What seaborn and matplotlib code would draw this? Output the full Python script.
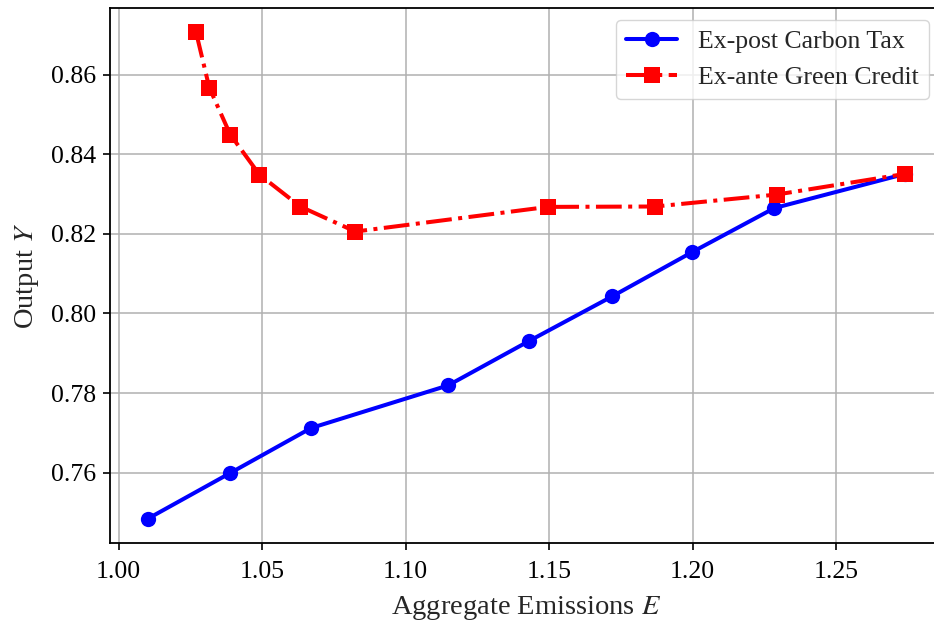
#!/usr/bin/env python3
"""
Output vs aggregate emissions: ex-post carbon tax vs ex-ante green credit
"""

import pandas as pd
import matplotlib
matplotlib.use('Agg')  # Non-interactive backend
import matplotlib.pyplot as plt
import seaborn as sns

# Ex-post carbon tax (emissions E, output Y)
tax_E = [1.0102, 1.0387, 1.0671, 1.1148, 1.1431, 1.1720, 1.1998, 1.2285, 1.2741]
tax_Y = [0.7484, 0.7598, 0.7712, 0.7819, 0.7931, 0.8043, 0.8154, 0.8265, 0.8351]

# Ex-ante green credit
credit_E = [1.0270, 1.0316, 1.0389, 1.0491, 1.0633, 1.0825, 1.1496, 1.1870, 1.2293, 1.2741]
credit_Y = [0.8707, 0.8568, 0.8450, 0.8349, 0.8269, 0.8206, 0.8268, 0.8269, 0.8299, 0.8351]

labels = ['Ex-post Carbon Tax', 'Ex-ante Green Credit']

sns.set_style("whitegrid", {
    'axes.edgecolor': 'black',
    'grid.color': '#b0b0b0',
    'xtick.bottom': True,
    'ytick.left': True,
})
plt.rcParams['font.family'] = ['Liberation Serif', 'DejaVu Serif']
plt.rcParams['mathtext.fontset'] = 'stix'
plt.rcParams['axes.linewidth'] = 1.3
plt.rcParams['grid.linewidth'] = 1.1
plt.rcParams['xtick.major.size'] = 5
plt.rcParams['ytick.major.size'] = 5
plt.rcParams['xtick.major.width'] = 1.2
plt.rcParams['ytick.major.width'] = 1.2
plt.rcParams['xtick.color'] = 'black'
plt.rcParams['ytick.color'] = 'black'

df_tax = pd.DataFrame({'E': tax_E, 'Y': tax_Y})
df_credit = pd.DataFrame({'E': credit_E, 'Y': credit_Y})

fig = plt.figure(figsize=(9.34, 6.25), dpi=100)
ax = fig.add_axes([110 / 934, 82 / 625, 833 / 934, 535 / 625])

sns.lineplot(data=df_tax, x='E', y='Y', ax=ax, color='blue', marker='o',
             markersize=11, linewidth=2.9, markeredgewidth=0,
             errorbar=None, label=labels[0])
sns.lineplot(data=df_credit, x='E', y='Y', ax=ax, color='red', marker='s',
             markersize=11, linewidth=2.9, markeredgewidth=0, linestyle='-.',
             errorbar=None, label=labels[1])

ax.set_xlabel('Aggregate Emissions $E$', fontsize=20.5, labelpad=8)
ax.set_ylabel('Output $Y$', fontsize=20.5, labelpad=7)
ax.tick_params(axis='both', labelsize=18.5)
ax.tick_params(axis='x', pad=8)
ax.tick_params(axis='y', pad=5)
ax.set_xticks([1.00, 1.05, 1.10, 1.15, 1.20, 1.25])
ax.set_xticklabels(['1.00', '1.05', '1.10', '1.15', '1.20', '1.25'])
ax.set_yticks([0.76, 0.78, 0.80, 0.82, 0.84, 0.86])
ax.set_yticklabels(['0.76', '0.78', '0.80', '0.82', '0.84', '0.86'])
ax.margins(0.05)
ax.spines['right'].set_visible(False)

leg = ax.legend(loc='upper right', bbox_to_anchor=(929 / 934, 1 - 20 / 625),
                bbox_transform=fig.transFigure, borderaxespad=0,
                fontsize=18.5, frameon=True, fancybox=True, framealpha=0.8)
leg.get_frame().set_edgecolor('#cccccc')

plt.savefig('out.png', dpi=100)
plt.close()
